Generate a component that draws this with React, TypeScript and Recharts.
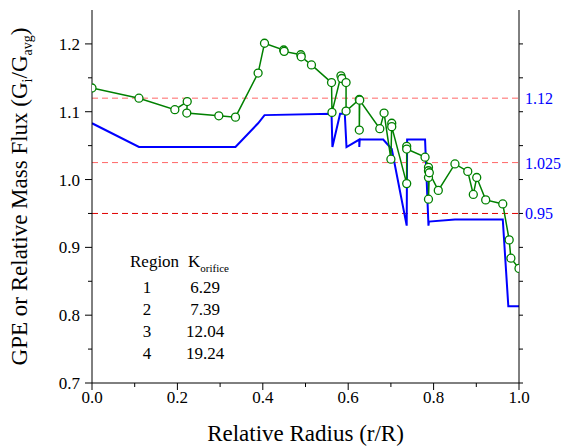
import { ComposedChart, Line, XAxis, YAxis, ReferenceLine } from "recharts";

// measured GPE (green, open circles)
const gpeX = [
  0.0, 0.11, 0.194, 0.223, 0.222, 0.297, 0.336, 0.389, 0.404, 0.449, 0.45,
  0.489, 0.49, 0.514, 0.561, 0.562, 0.583, 0.585, 0.595, 0.595, 0.626, 0.626,
  0.627, 0.674, 0.684, 0.7, 0.702, 0.702, 0.737, 0.737, 0.737, 0.78, 0.788,
  0.788, 0.788, 0.788, 0.79, 0.811, 0.85, 0.88, 0.893, 0.901, 0.922, 0.962,
  0.977, 0.981, 1.0,
];
const gpeY = [
  1.135, 1.12, 1.103, 1.115, 1.098, 1.094, 1.092, 1.157, 1.201, 1.191, 1.189,
  1.184, 1.181, 1.169, 1.143, 1.099, 1.153, 1.149, 1.143, 1.101, 1.118, 1.073,
  1.117, 1.075, 1.098, 1.03, 1.083, 1.078, 0.994, 1.049, 1.045, 1.033, 1.018,
  1.013, 1.003, 0.971, 1.01, 0.984, 1.023, 1.012, 0.978, 1.003, 0.97, 0.964,
  0.911, 0.884, 0.869,
];

// relative mass flux (blue)
const fluxX = [
  0.0, 0.11, 0.336, 0.389, 0.404, 0.561, 0.563, 0.581, 0.592, 0.596, 0.626,
  0.626, 0.627, 0.682, 0.702, 0.737, 0.738, 0.78, 0.788, 0.789, 0.85, 0.962,
  0.975, 1.0,
];
const fluxY = [
  1.083, 1.048, 1.048, 1.083, 1.095, 1.097, 1.048, 1.097, 1.097, 1.048, 1.059,
  1.048, 1.059, 1.059, 1.045, 0.932, 1.059, 1.059, 0.932, 0.938, 0.941, 0.941,
  0.813, 0.813,
];

const xTicks = [0, 0.1, 0.2, 0.3, 0.4, 0.5, 0.6, 0.7, 0.8, 0.9, 1.0];
const yTicks = [0.7, 0.75, 0.8, 0.85, 0.9, 0.95, 1.0, 1.05, 1.1, 1.15, 1.2];

const regions = ["1", "2", "3", "4"];
const kOrifice = ["6.29", "7.39", "12.04", "19.24"];

const gpeData = gpeX.map((x, i) => ({ x, y: gpeY[i] }));
const fluxData = fluxX.map((x, i) => ({ x, y: fluxY[i] }));

const FONT = "Liberation Serif";
const W = 562;
const H = 448;

const isMajor = (v: number, step: number) =>
  Math.abs(Math.round(v / step) * step - v) < 1e-6;

function XTick({ x, y, payload }: any) {
  const major = isMajor(payload.value, 0.2);
  return (
    <g>
      <line x1={x} y1={y} x2={x} y2={y + (major ? 7 : 4)} stroke="#000" />
      {major && (
        <text x={x} y={y + 20} textAnchor="middle" fontSize={17} fontFamily={FONT} fill="#000">
          {payload.value.toFixed(1)}
        </text>
      )}
    </g>
  );
}

function YTick({ x, y, payload }: any) {
  const major = isMajor(payload.value, 0.1);
  return (
    <g>
      <line x1={x} y1={y} x2={x - (major ? 7 : 4)} y2={y} stroke="#000" />
      {major && (
        <text x={x - 12} y={y + 6} textAnchor="end" fontSize={17} fontFamily={FONT} fill="#000">
          {payload.value.toFixed(1)}
        </text>
      )}
    </g>
  );
}

const refLabel = (v: string) => ({
  content: ({ viewBox }: any) => (
    <text
      x={viewBox.x + viewBox.width + 6}
      y={viewBox.y + 6}
      fill="#0000ff"
      fontSize={16}
      fontFamily={FONT}
    >
      {v}
    </text>
  ),
});

export default function App() {
  return (
    <div style={{ position: "relative", width: W, height: H }}>
      <style>{"body{margin:0}"}</style>
      <ComposedChart
        width={W}
        height={H}
        margin={{ top: 10, right: 0, bottom: 0, left: 0 }}
      >
        <XAxis
          dataKey="x"
          type="number"
          domain={[0, 1]}
          ticks={xTicks}
          interval={0}
          allowDataOverflow
          height={65}
          stroke="#000"
          tickLine={false}
          tickSize={0}
          tickMargin={0}
          tick={<XTick />}
          label={{
            content: ({ viewBox }: any) => (
              <text
                x={viewBox.x + viewBox.width / 2}
                y={viewBox.y + 58}
                textAnchor="middle"
                fontSize={23}
                fontFamily={FONT}
                fill="#000"
              >
                Relative Radius (r/R)
              </text>
            ),
          }}
        />
        <XAxis
          xAxisId="top"
          orientation="top"
          type="number"
          domain={[0, 1]}
          height={0}
          stroke="#000"
          tick={false}
          tickLine={false}
        />
        <YAxis
          yAxisId="left"
          type="number"
          domain={[0.7, 1.25]}
          ticks={yTicks}
          interval={0}
          allowDataOverflow
          width={92}
          stroke="#000"
          tickLine={false}
          tickSize={0}
          tickMargin={0}
          tick={<YTick />}
          label={{
            content: ({ viewBox }: any) => {
              const cx = 27;
              const cy = viewBox.y + viewBox.height / 2;
              return (
                <text
                  x={cx}
                  y={cy}
                  transform={`rotate(-90, ${cx}, ${cy})`}
                  textAnchor="middle"
                  fontSize={23}
                  fontFamily={FONT}
                  fill="#000"
                >
                  GPE or Relative Mass Flux (G
                  <tspan fontSize={14} dy={5}>i</tspan>
                  <tspan dy={-5}>/G</tspan>
                  <tspan fontSize={14} dy={5}>avg</tspan>
                  <tspan dy={-5}>)</tspan>
                </text>
              );
            },
          }}
        />
        <YAxis
          yAxisId="right"
          orientation="right"
          type="number"
          domain={[0.7, 1.25]}
          ticks={yTicks}
          interval={0}
          allowDataOverflow
          width={43}
          stroke="#000"
          tickSize={4}
          tickFormatter={() => ""}
        />
        <ReferenceLine yAxisId="left" y={1.12} stroke="#ff6666" strokeDasharray="6 4" label={refLabel("1.12")} />
        <ReferenceLine yAxisId="left" y={1.025} stroke="#ff6666" strokeDasharray="6 4" label={refLabel("1.025")} />
        <ReferenceLine yAxisId="left" y={0.95} stroke="#e00000" strokeDasharray="6 4" label={refLabel("0.95")} />
        <Line
          yAxisId="left"
          data={fluxData}
          dataKey="y"
          type="linear"
          stroke="#0000ff"
          strokeWidth={2}
          dot={false}
          isAnimationActive={false}
        />
        <Line
          yAxisId="left"
          data={gpeData}
          dataKey="y"
          type="linear"
          stroke="#008000"
          strokeWidth={1.5}
          dot={{ r: 4, fill: "#fff", stroke: "#008000", strokeWidth: 1.3 }}
          isAnimationActive={false}
        />
      </ComposedChart>
      <svg
        width={W}
        height={H}
        style={{ position: "absolute", left: 0, top: 0, pointerEvents: "none" }}
      >
        <g fontFamily={FONT} fontSize={17} fill="#000">
          <text x={130} y={267}>Region</text>
          <text x={188} y={267}>
            K<tspan fontSize={11} dy={5}>orifice</tspan>
          </text>
          {regions.map((r, i) => (
            <g key={r}>
              <text x={147} y={293 + i * 22} textAnchor="middle">{r}</text>
              <text x={205} y={293 + i * 22} textAnchor="middle">{kOrifice[i]}</text>
            </g>
          ))}
        </g>
      </svg>
    </div>
  );
}
